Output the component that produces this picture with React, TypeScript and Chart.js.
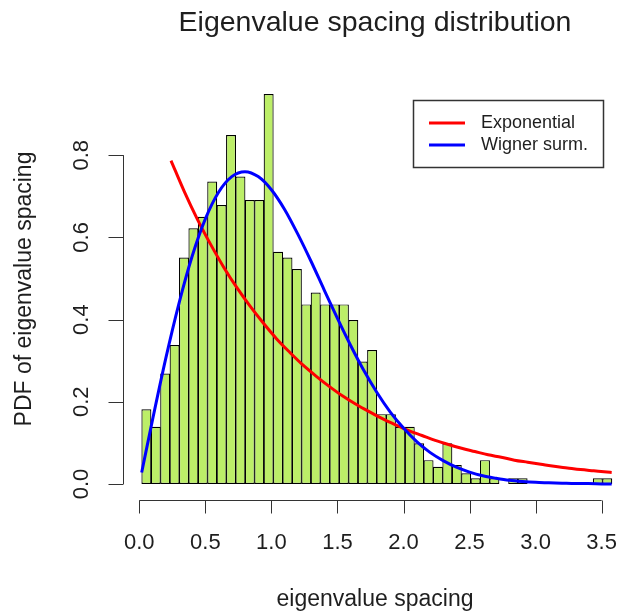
import React, { useEffect, useRef } from "react";
import { Chart, registerables } from "chart.js";

Chart.register(...registerables);

// ---------- data ----------
const TITLE = "Eigenvalue spacing distribution";
const X_TITLE = "eigenvalue spacing";
const Y_TITLE = "PDF of eigenvalue spacing";

const binStart = 0.018;
const binWidth = 0.0712;
const densities = [
  0.182, 0.139, 0.269, 0.338, 0.551, 0.622, 0.65, 0.736, 0.679, 0.849,
  0.748, 0.691, 0.691, 0.949, 0.565, 0.551, 0.523, 0.437, 0.466, 0.437,
  0.437, 0.437, 0.399, 0.298, 0.326, 0.17, 0.17, 0.139, 0.139, 0.099,
  0.058, 0.042, 0.099, 0.046, 0.026, 0.014, 0.058, 0.014, 0, 0.014,
  0.014, 0, 0, 0, 0, 0, 0, 0, 0.014, 0.014,
];

const expX = [
  0.24, 0.34, 0.44, 0.54, 0.64, 0.74, 0.84, 0.94, 1.04, 1.14, 1.24, 1.34,
  1.44, 1.54, 1.64, 1.74, 1.84, 1.94, 2.04, 2.14, 2.24, 2.34, 2.44, 2.54,
  2.64, 2.74, 2.84, 2.94, 3.04, 3.14, 3.24, 3.34, 3.44, 3.54, 3.576,
];
const expY = [
  0.787, 0.712, 0.644, 0.583, 0.527, 0.477, 0.432, 0.391, 0.353, 0.32, 0.289,
  0.262, 0.237, 0.214, 0.194, 0.176, 0.159, 0.144, 0.13, 0.118, 0.106, 0.096,
  0.087, 0.079, 0.071, 0.065, 0.058, 0.053, 0.048, 0.043, 0.039, 0.035, 0.032,
  0.029, 0.028,
];

const wigX = [
  0.018, 0.1, 0.2, 0.3, 0.4, 0.5, 0.6, 0.7, 0.8, 0.9, 1.0, 1.1, 1.2, 1.3,
  1.4, 1.5, 1.6, 1.7, 1.8, 1.9, 2.0, 2.1, 2.2, 2.3, 2.4, 2.5, 2.6, 2.7, 2.8,
  2.9, 3.0, 3.1, 3.2, 3.3, 3.4, 3.5, 3.576,
];
const wigY = [
  0.028, 0.156, 0.305, 0.439, 0.554, 0.645, 0.71, 0.748, 0.76, 0.748, 0.716,
  0.668, 0.608, 0.542, 0.472, 0.403, 0.337, 0.276, 0.222, 0.175, 0.136,
  0.103, 0.077, 0.057, 0.041, 0.029, 0.02, 0.014, 0.009, 0.006, 0.004, 0.003,
  0.002, 0.001, 0.001, 0.0003, 0.0002,
];

const xTicks = [0, 0.5, 1, 1.5, 2, 2.5, 3, 3.5];
const xTickLabels = ["0.0", "0.5", "1.0", "1.5", "2.0", "2.5", "3.0", "3.5"];
const yTicks = [0, 0.2, 0.4, 0.6, 0.8];
const yTickLabels = ["0.0", "0.2", "0.4", "0.6", "0.8"];

const legendLabels = ["Exponential", "Wigner surm."];
const legendColors = ["#ff0000", "#0000ff"];

// ---------- layout ----------
const W = 625;
const H = 613;
const PLOT = { left: 123.3, right: 625, top: 78, bottom: 500 };
const X0PX = 139.3; // pixel of x=0
const XPPU = 132.1; // px per unit
const Y0PX = 484; // pixel of y=0
const YPPU = 411;
const FONT = '"Liberation Sans", Arial, Helvetica, sans-serif';
const TEXT = "#1e1e1e";

const rPlotPlugin = {
  id: "rPlot",
  afterDraw(chart: any) {
    const ctx = chart.ctx as CanvasRenderingContext2D;
    const xs = chart.scales.x;
    const ys = chart.scales.y;
    const ca = chart.chartArea;
    ctx.save();
    ctx.strokeStyle = "#333";
    ctx.fillStyle = TEXT;
    ctx.lineWidth = 1;

    // x axis
    const xa = Math.round(ca.bottom) + 0.5;
    ctx.beginPath();
    ctx.moveTo(xs.getPixelForValue(xTicks[0]), xa);
    ctx.lineTo(xs.getPixelForValue(xTicks[xTicks.length - 1]), xa);
    xTicks.forEach((t) => {
      const px = Math.round(xs.getPixelForValue(t)) + 0.5;
      ctx.moveTo(px, xa);
      ctx.lineTo(px, xa + 13);
    });
    ctx.stroke();
    ctx.font = `22px ${FONT}`;
    ctx.textAlign = "center";
    ctx.textBaseline = "middle";
    xTicks.forEach((t, i) => {
      ctx.fillText(xTickLabels[i], xs.getPixelForValue(t), 543);
    });

    // y axis
    const ya = Math.round(ca.left) + 0.5;
    ctx.beginPath();
    ctx.moveTo(ya, ys.getPixelForValue(yTicks[0]));
    ctx.lineTo(ya, ys.getPixelForValue(yTicks[yTicks.length - 1]));
    yTicks.forEach((t) => {
      const py = Math.round(ys.getPixelForValue(t)) + 0.5;
      ctx.moveTo(ya, py);
      ctx.lineTo(ya - 15, py);
    });
    ctx.stroke();
    yTicks.forEach((t, i) => {
      ctx.save();
      ctx.translate(82, ys.getPixelForValue(t));
      ctx.rotate(-Math.PI / 2);
      ctx.fillText(yTickLabels[i], 0, 0);
      ctx.restore();
    });

    // titles
    ctx.font = `28.5px ${FONT}`;
    ctx.fillText(TITLE, 375, 23);
    ctx.font = `23px ${FONT}`;
    ctx.fillText(X_TITLE, 375, 600);
    ctx.save();
    ctx.translate(25, 289);
    ctx.rotate(-Math.PI / 2);
    ctx.fillText(Y_TITLE, 0, 0);
    ctx.restore();

    // legend
    ctx.fillStyle = "#ffffff";
    ctx.fillRect(413.5, 100.5, 190, 67);
    ctx.lineWidth = 1.5;
    ctx.strokeStyle = "#333";
    ctx.strokeRect(413.5, 100.5, 190, 67);
    ctx.font = `18px ${FONT}`;
    ctx.textAlign = "left";
    const rows = [123, 145];
    legendLabels.forEach((lab, i) => {
      ctx.strokeStyle = legendColors[i];
      ctx.lineWidth = 3;
      ctx.beginPath();
      ctx.moveTo(429, rows[i]);
      ctx.lineTo(465, rows[i]);
      ctx.stroke();
      ctx.fillStyle = TEXT;
      ctx.fillText(lab, 481, rows[i]);
    });
    ctx.restore();
  },
};

export default function App() {
  const ref = useRef<HTMLCanvasElement | null>(null);

  useEffect(() => {
    if (!ref.current) return;
    const bars = densities.map((d, i) => ({ x: binStart + binWidth * (i + 0.5), y: d }));
    const expPts = expX.map((x, i) => ({ x, y: expY[i] }));
    const wigPts = wigX.map((x, i) => ({ x, y: wigY[i] }));

    const chart = new Chart(ref.current, {
      type: "bar",
      data: {
        datasets: [
          {
            type: "bar",
            label: "hist",
            data: bars,
            backgroundColor: "#bcee68",
            borderColor: "#000000",
            borderWidth: 1.2,
            borderSkipped: false,
            barPercentage: 1.06,
            categoryPercentage: 1,
            order: 3,
          } as any,
          {
            type: "line",
            label: legendLabels[0],
            data: expPts,
            borderColor: legendColors[0],
            borderWidth: 3,
            pointRadius: 0,
            cubicInterpolationMode: "monotone",
            fill: false,
            order: 2,
          } as any,
          {
            type: "line",
            label: legendLabels[1],
            data: wigPts,
            borderColor: legendColors[1],
            borderWidth: 3,
            pointRadius: 0,
            cubicInterpolationMode: "monotone",
            fill: false,
            order: 1,
          } as any,
        ],
      },
      options: {
        responsive: false,
        animation: false,
        devicePixelRatio: 1,
        layout: {
          padding: {
            left: PLOT.left,
            right: W - PLOT.right,
            top: PLOT.top,
            bottom: H - PLOT.bottom,
          },
        },
        plugins: {
          legend: { display: false },
          tooltip: { enabled: false },
          title: { display: false },
        },
        scales: {
          x: {
            type: "linear",
            display: false,
            min: (PLOT.left - X0PX) / XPPU,
            max: (PLOT.right - X0PX) / XPPU,
            offset: false,
          },
          y: {
            type: "linear",
            display: false,
            min: (Y0PX - PLOT.bottom) / YPPU,
            max: (Y0PX - PLOT.top) / YPPU,
          },
        },
      },
      plugins: [rPlotPlugin],
    });
    return () => chart.destroy();
  }, []);

  return (
    <div style={{ position: "fixed", left: 0, top: 0, width: W, height: H, background: "#fff" }}>
      <canvas ref={ref} width={W} height={H} style={{ display: "block", width: W, height: H }} />
    </div>
  );
}
